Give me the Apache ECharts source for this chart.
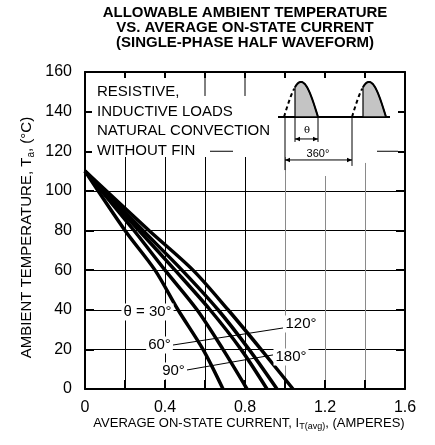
<!DOCTYPE html>
<html><head><meta charset="utf-8">
<script src="https://cdn.jsdelivr.net/npm/echarts/dist/echarts.min.js"></script>
<style>html,body{margin:0;padding:0;background:#fff}#c{width:435px;height:445px}</style>
</head><body><div id="c"></div>
<script>
// ---- data ----
const temps = [110, 80, 60, 40, 20, 0];
const cur30 = [0, 0.20, 0.35, 0.465, 0.59, 0.69];
const cur60 = [0, 0.245, 0.40, 0.56, 0.69, 0.81];
const cur90 = [0, 0.27, 0.45, 0.625, 0.78, 0.91];
const cur120 = [0, 0.29, 0.485, 0.665, 0.82, 0.96];
const cur180 = [0, 0.32, 0.54, 0.715, 0.88, 1.04];
const angleNames = ['θ = 30°', '60°', '90°', '120°', '180°'];
const xLabelVals = [0, 0.4, 0.8, 1.2, 1.6];
const xLabels = ['0', '0.4', '0.8', '1.2', '1.6'];
const yLabels = ['0', '20', '40', '60', '80', '100', '120', '140', '160'];
const titleText = 'ALLOWABLE AMBIENT TEMPERATURE\nVS. AVERAGE ON-STATE CURRENT\n(SINGLE-PHASE HALF WAVEFORM)';
const noteText = 'RESISTIVE,\nINDUCTIVE LOADS\nNATURAL CONVECTION\nWITHOUT FIN';
const yNameParts = ['AMBIENT TEMPERATURE, T', 'a', ', (°C)'];
const xNameParts = ['AVERAGE ON-STATE CURRENT, I', 'T(avg)', ', (AMPERES)'];

const FAM = "'Liberation Sans', Arial, sans-serif";
const FONT = '"Liberation Sans", Arial, Helvetica, sans-serif';
const chart = echarts.init(document.getElementById('c'), null, {renderer: 'canvas'});
const gridColors = ['#000', '#000', '#000', '#000', '#000', '#8a8a8a', '#8a8a8a', '#8a8a8a', '#000'];

function mk(c) { return c.map((v, i) => [v, temps[i]]); }
const curves = [cur30, cur60, cur90, cur120, cur180];

const axisLine = {show: true, onZero: false, lineStyle: {color: '#000', width: 2}};
const axisTick = {show: true, inside: true, length: 9, lineStyle: {color: '#000', width: 2}};

chart.setOption({
  animation: false,
  backgroundColor: '#fff',
  grid: {left: 85, right: 30, top: 72, bottom: 56, containLabel: false, outerBoundsMode: 'none'},
  xAxis: [{
    type: 'value', min: 0, max: 1.6, interval: 0.2, position: 'bottom',
    axisLine, axisTick,
    axisLabel: {show: true, margin: 11, fontSize: 16, color: '#000', fontFamily: FONT,
      formatter: v => { const i = xLabelVals.findIndex(t => Math.abs(t - v) < 1e-6); return i >= 0 ? xLabels[i] : ''; }},
    splitLine: {show: true, lineStyle: {color: gridColors, width: 1}}
  }, {
    type: 'value', min: 0, max: 1.6, interval: 0.2, position: 'top',
    axisLine, axisTick, axisLabel: {show: false}, splitLine: {show: false}
  }],
  yAxis: [{
    type: 'value', min: 0, max: 160, interval: 20, position: 'left',
    axisLine, axisTick,
    axisLabel: {show: true, margin: 13, fontSize: 16, color: '#000', fontFamily: FONT,
      formatter: v => yLabels[Math.round(v / 20)]},
    splitLine: {show: true, lineStyle: {color: '#000', width: 1}}
  }, {
    type: 'value', min: 0, max: 160, interval: 20, position: 'right',
    axisLine, axisTick, axisLabel: {show: false}, splitLine: {show: false}
  }],
  series: curves.map((c, i) => ({
    type: 'line', name: angleNames[i], data: mk(c), xAxisIndex: 0, yAxisIndex: 0,
    showSymbol: false, smooth: 0.3, silent: true, z: 10,
    lineStyle: {color: '#000', width: 3.5}
  }))
});

const P = (v, t) => chart.convertToPixel({xAxisIndex: 0, yAxisIndex: 0}, [v, t]);
const els = [];
function L(a, b, w, z, dash) {
  els.push({type: 'line', silent: true, z: z || 8,
    shape: {x1: a[0], y1: a[1], x2: b[0], y2: b[1]},
    style: {stroke: '#000', lineWidth: w || 1, lineDash: dash || null}});
}
function R(a, b) {
  els.push({type: 'rect', silent: true, z: 5,
    shape: {x: Math.min(a[0], b[0]), y: Math.min(a[1], b[1]), width: Math.abs(b[0] - a[0]), height: Math.abs(b[1] - a[1])},
    style: {fill: '#fff'}});
}
function T(p, text, font, align, valign, bg, extra) {
  const st = Object.assign({text, font, fill: '#000', align: align || 'center', verticalAlign: valign || 'middle'}, extra || {});
  if (bg) { st.backgroundColor = '#fff'; st.padding = [1, 2, 1, 2]; }
  els.push({type: 'text', silent: true, z: 20, x: p[0], y: p[1], style: st});
}
function arrow(a, b) {
  L(a, b, 1, 22);
  const s = 5, h = 2.2;
  els.push({type: 'polygon', silent: true, z: 22, shape: {points: [[a[0], a[1]], [a[0] + s, a[1] - h], [a[0] + s, a[1] + h]]}, style: {fill: '#000'}});
  els.push({type: 'polygon', silent: true, z: 22, shape: {points: [[b[0], b[1]], [b[0] - s, b[1] - h], [b[0] - s, b[1] + h]]}, style: {fill: '#000'}});
}
const mctx = document.createElement('canvas').getContext('2d');
function W(s, f) { mctx.font = f; return mctx.measureText(s).width; }
// name built from pieces: main / subscript / main, laid along local x
function nameGroup(parts, size, subSize, subDrop, cx, cy, rot) {
  const fMain = size + 'px ' + FAM, fSub = subSize + 'px ' + FAM;
  const w = [W(parts[0], fMain), W(parts[1], fSub), W(parts[2], fMain)];
  const total = w[0] + w[1] + w[2];
  let x = -total / 2;
  const children = [];
  [fMain, fSub, fMain].forEach((f, i) => {
    children.push({type: 'text', x: x, y: i === 1 ? subDrop : 0, silent: true,
      style: {text: parts[i], font: f, fill: '#000', align: 'left', verticalAlign: 'middle'}});
    x += w[i];
  });
  els.push({type: 'group', x: cx, y: cy, rotation: rot, z: 20, silent: true, children});
}

// masks to interrupt grid where annotation sits
R(P(0.035, 157.0), P(1.565, 117.1));
R(P(1.075, 120.6), P(1.30, 107.5));
R(P(1.385, 117.1), P(1.415, 114.1));
// remaining grid pieces inside masked area
L(P(0.6, 157), P(0.6, 147.9), 1, 6);
L(P(0.8, 157), P(0.8, 147.9), 1, 6);
L(P(0.625, 120), P(0.74, 120), 1, 6);
L(P(1.46, 120), P(1.565, 120), 1, 6);

// note text
T(P(0.06, 154.8), noteText, '15px ' + FONT, 'left', 'top', false, {lineHeight: 19.5});

// waveform
const base = 137.3, amp = 17.7, hw = 0.17, cOff = 0.055;
L(P(0.965, base), P(1.525, base), 2, 21);
[0.995, 1.335].forEach(v0 => {
  const dashPts = [], solPts = [];
  for (let k = 0; k <= 40; k++) {
    const t = k / 40, v = v0 + t * hw;
    const p = P(v, base + amp * Math.sin(Math.PI * t));
    if (t * hw <= cOff + 1e-9) dashPts.push(p);
  }
  const tc = cOff / hw;
  for (let k = 0; k <= 40; k++) {
    const t = tc + (1 - tc) * k / 40;
    solPts.push(P(v0 + t * hw, base + amp * Math.sin(Math.PI * t)));
  }
  const poly = [P(v0 + cOff, base)].concat(solPts).concat([P(v0 + hw, base)]);
  els.push({type: 'polygon', silent: true, z: 21, shape: {points: poly}, style: {fill: '#c4c4c4', stroke: '#000', lineWidth: 1.2}});
  els.push({type: 'polyline', silent: true, z: 22, shape: {points: solPts}, style: {stroke: '#000', lineWidth: 2, fill: null}});
  els.push({type: 'polyline', silent: true, z: 22, shape: {points: dashPts}, style: {stroke: '#000', lineWidth: 2, fill: null, lineDash: [4, 3]}});
});
// theta dimension
L(P(1.05, 136.8), P(1.05, 124.7), 1, 22);
L(P(1.165, 136.8), P(1.165, 124.7), 1, 22);
arrow(P(1.05, 126.2), P(1.165, 126.2));
T(P(1.11, 130.6), 'θ', '10px "DejaVu Serif", serif', 'center', 'middle', false);
// 360 dimension
L(P(1.0, 136.8), P(1.0, 110.5), 1, 22);
L(P(1.335, 136.8), P(1.335, 112.6), 1, 22);
arrow(P(1.0, 115.6), P(1.335, 115.6));
T(P(1.165, 118.8), '360°', '11px ' + FONT, 'center', 'middle', true);

// curve labels
const lab = '15px ' + FONT;
L(P(0.44, 22.2), P(0.99, 30.8), 1, 19);
L(P(0.51, 9.6), P(0.94, 17.2), 1, 19);
T(P(0.3125, 38.9), angleNames[0], lab, 'center', 'middle', true);
T(P(0.3725, 22.2), angleNames[1], lab, 'center', 'middle', true);
T(P(0.4425, 9.1), angleNames[2], lab, 'center', 'middle', true);
T(P(1.08, 32.8), angleNames[3], lab, 'center', 'middle', true);
T(P(1.03, 16.2), angleNames[4], lab, 'center', 'middle', true);

// axis names
const gx0 = P(0, 0)[0], gx1 = P(1.6, 0)[0], gy0 = P(0, 0)[1], gy1 = P(0, 160)[1];
nameGroup(xNameParts, 13, 9, 4, (gx0 + gx1) / 2 + 4, gy0 + 34, 0);
nameGroup(yNameParts, 15, 10, 4, 27, (gy0 + gy1) / 2 + 7, Math.PI / 2);

// title
const cx = (gx0 + gx1) / 2;
els.push({type: 'text', silent: true, z: 20, x: cx, y: 5.5,
  style: {text: titleText, font: 'bold 15px ' + FONT, fill: '#000', align: 'center', verticalAlign: 'top', lineHeight: 15}});

chart.setOption({graphic: {elements: els}});
</script>
</body></html>
